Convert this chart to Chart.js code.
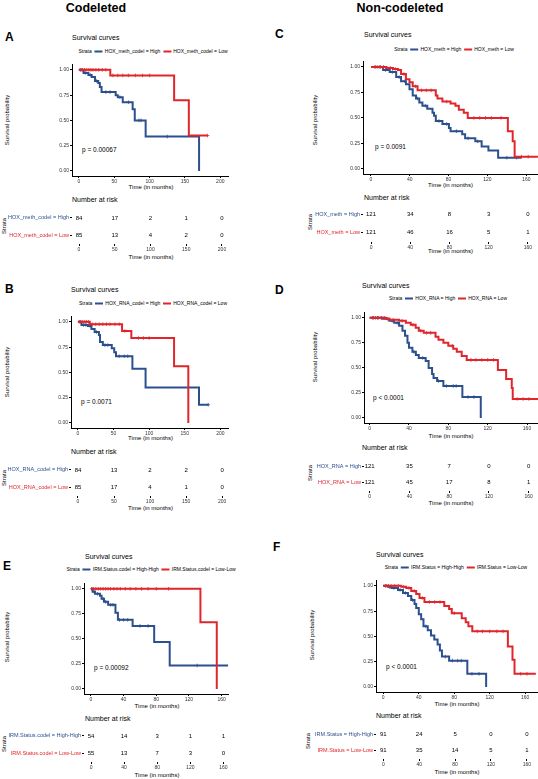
<!DOCTYPE html>
<html>
<head>
<meta charset="utf-8">
<script src="https://cdn.jsdelivr.net/npm/chart.js@4.4.1/dist/chart.umd.min.js"></script>
<style>
  body { margin: 0; width: 538px; height: 779px; overflow: hidden; background: #fff; position: relative;
         font-family: "Liberation Sans", Arial, sans-serif; }
  .t { position: absolute; white-space: nowrap; line-height: 1; color: #000; }
  canvas { position: absolute; }
  .sw { display: inline-block; width: 8px; height: 2px; vertical-align: middle; margin: 0 2px 0 3px; }
</style>
</head>
<body>
<script>
const BLUE = '#2c4f8d';
const RED = '#e0262c';

// A - HOX methylation, codeleted (times in months, survival, censor times)
const aHighT = [0, 6.5, 13.4, 18, 22.7, 27.3, 29.6, 32, 52, 55, 62, 76, 79, 94.4, 170];
const aHighS = [1, 0.97, 0.95, 0.93, 0.89, 0.87, 0.83, 0.78, 0.75, 0.73, 0.68, 0.61, 0.50, 0.34, 0];
const aHighC = [3, 9, 16, 25, 38, 44, 58, 70, 85, 88, 125];
const aLowT = [0, 44.4, 134.7, 155.5, 182];
const aLowS = [1, 0.945, 0.70, 0.35, 0.35];
const aLowC = [2, 5, 8, 11, 14, 17, 20, 24, 28, 33, 38, 48, 55, 62, 70, 80, 90, 100, 182];
const aTicks = [0, 50, 100, 150, 200];
const aStrata = ['HOX_meth_codel = High', 'HOX_meth_codel = Low'];
const aRiskHigh = [84, 17, 2, 1, 0];
const aRiskLow = [85, 13, 4, 2, 0];

// B - HOX RNA, codeleted
const bHighT = [0, 5, 14, 19, 23.5, 29.5, 31, 35, 47.5, 51, 53.5, 76.5, 95, 170, 183];
const bHighS = [1, 0.97, 0.96, 0.93, 0.90, 0.87, 0.80, 0.77, 0.74, 0.70, 0.66, 0.535, 0.35, 0.18, 0.18];
const bHighC = [3, 8, 11, 17, 26, 38, 42, 58, 65, 70, 183];
const bLowT = [0, 16.6, 62, 75, 135, 155];
const bLowS = [1, 0.977, 0.91, 0.84, 0.56, 0];
const bLowC = [3, 6, 9, 12, 15, 20, 25, 30, 35, 40, 45, 52, 58, 66, 85, 92, 100];
const bTicks = [0, 50, 100, 150, 200];
const bStrata = ['HOX_RNA_codel = High', 'HOX_RNA_codel = Low'];
const bRiskHigh = [84, 13, 2, 2, 0];
const bRiskLow = [85, 17, 4, 1, 0];

// C - HOX methylation, non-codeleted
const cHighT = [0, 12.5, 19.3, 26, 31, 36, 39.7, 43, 46.4, 49.8, 53, 58, 63.4, 65, 66.8, 73.6, 80.3, 82, 94, 97, 107.5, 114, 121, 131, 155];
const cHighS = [1, 0.97, 0.95, 0.90, 0.86, 0.83, 0.78, 0.72, 0.69, 0.65, 0.62, 0.59, 0.55, 0.52, 0.47, 0.44, 0.40, 0.37, 0.34, 0.30, 0.27, 0.22, 0.18, 0.11, 0.11];
const cHighC = [5, 9, 15, 22, 29, 35, 48, 56, 70, 78, 88, 100, 110, 140, 150];
const cLowT = [0, 16, 22.7, 27.8, 31, 36, 39.7, 43, 48, 66.8, 68.5, 73.6, 82, 87, 90.5, 95.6, 99.7, 141, 146, 148, 172];
const cLowS = [1, 0.99, 0.98, 0.97, 0.93, 0.88, 0.85, 0.81, 0.77, 0.72, 0.69, 0.66, 0.64, 0.62, 0.58, 0.55, 0.50, 0.37, 0.27, 0.12, 0.12];
const cLowC = [4, 7, 10, 13, 20, 25, 34, 46, 52, 57, 62, 78, 106, 112, 118, 124, 134, 155, 162];
const cTicks = [0, 40, 80, 120, 160];
const cStrata = ['HOX_meth = High', 'HOX_meth = Low'];
const cRiskHigh = [121, 34, 8, 3, 0];
const cRiskLow = [121, 46, 16, 5, 1];

// D - HOX RNA, non-codeleted
const dHighT = [0, 13.4, 20, 25, 30, 33.4, 36, 38.5, 40, 43.5, 47, 50, 57, 60, 63.5, 65, 68.6, 75, 94.3, 113];
const dHighS = [1, 0.99, 0.97, 0.95, 0.92, 0.87, 0.82, 0.75, 0.70, 0.66, 0.63, 0.60, 0.57, 0.50, 0.44, 0.40, 0.37, 0.32, 0.21, 0];
const dHighC = [4, 8, 12, 18, 23, 28, 45, 54, 70, 78, 85, 88, 100, 106];
const dLowT = [0, 16.7, 20, 30, 36.8, 41.8, 46.8, 50, 55, 67, 70, 75, 80, 85, 88.6, 93.6, 98.7, 130.4, 138.8, 144.5, 145.5, 172];
const dLowS = [1, 0.99, 0.98, 0.97, 0.95, 0.93, 0.90, 0.87, 0.85, 0.81, 0.78, 0.75, 0.72, 0.69, 0.66, 0.62, 0.58, 0.48, 0.39, 0.30, 0.19, 0.19];
const dLowC = [3, 6, 9, 12, 15, 24, 33, 44, 52, 58, 62, 84, 103, 108, 114, 120, 126, 150, 156, 162];
const dTicks = [0, 40, 80, 120, 160];
const dStrata = ['HOX_RNA = High', 'HOX_RNA = Low'];
const dRiskHigh = [121, 35, 7, 0, 0];
const dRiskLow = [121, 45, 17, 8, 1];

// E - IRM status, codeleted
const eHighT = [0, 2, 5, 11, 13, 16, 21, 30, 33, 51, 77.4, 96.4, 168];
const eHighS = [1, 0.97, 0.95, 0.93, 0.90, 0.87, 0.84, 0.76, 0.69, 0.63, 0.47, 0.235, 0.235];
const eHighC = [1, 4, 8, 15, 18, 24, 27, 35, 40, 45, 60, 70, 130];
const eLowT = [0, 134, 154];
const eLowS = [1, 0.667, 0];
const eLowC = [3, 6, 9, 12, 15, 18, 21, 24, 28, 32, 36, 42, 48, 55, 62, 70, 80, 95];
const eTicks = [0, 40, 80, 120, 160];
const eStrata = ['IRM.Status.codel = High-High', 'IRM.Status.codel = Low-Low'];
const eRiskHigh = [54, 14, 3, 1, 1];
const eRiskLow = [55, 13, 7, 3, 0];

// F - IRM status, non-codeleted
const fHighT = [0, 5.6, 9.3, 16.7, 22.3, 27.9, 31.6, 35.3, 37.2, 40.1, 42.8, 45.4, 50.2, 53.9, 57.6, 61.3, 63.9, 66.2, 74.3, 94.8, 116];
const fHighS = [1, 0.99, 0.98, 0.96, 0.93, 0.90, 0.86, 0.82, 0.78, 0.72, 0.67, 0.60, 0.56, 0.51, 0.47, 0.42, 0.36, 0.30, 0.26, 0.13, 0];
const fHighC = [3, 7, 12, 19, 25, 33, 48, 70, 78, 84, 88, 100, 108];
const fLowT = [0, 20.4, 26, 31.6, 37.2, 40.9, 46.5, 68.8, 74.3, 77.3, 88.5, 93, 96, 100.4, 140.5, 145.7, 148, 172];
const fLowS = [1, 0.99, 0.98, 0.95, 0.92, 0.88, 0.84, 0.80, 0.77, 0.73, 0.68, 0.64, 0.60, 0.55, 0.40, 0.27, 0.13, 0.13];
const fLowC = [3, 6, 9, 13, 17, 23, 29, 35, 44, 52, 58, 64, 80, 106, 112, 120, 128, 135, 155, 162];
const fTicks = [0, 40, 80, 120, 160];
const fStrata = ['IRM.Status = High-High', 'IRM.Status = Low-Low'];
const fRiskHigh = [91, 24, 5, 0, 0];
const fRiskLow = [91, 35, 14, 5, 1];

const yTicks = [0, 0.25, 0.5, 0.75, 1];

// layout of each panel (pixels in the page)
const panels = [
  { letter: 'A', col: 0, lx: 5, ly: 37, pv: 'p = 0.00067', pvx: 82, pvy: 150,
    high: [aHighT, aHighS, aHighC], low: [aLowT, aLowS, aLowC], ticks: aTicks, strata: aStrata, risk: [aRiskHigh, aRiskLow],
    plot: { l: 72, r: 230, t: 63, b: 176 }, xr: [-9.8, 211.2], legX: 153, legY: 51, scX: 72, scY: 37,
    spX: 7, spY: 120, t1: 187, nar: 199, rows: [217, 235], stX: 4, stY: 226, t2: 257 },
  { letter: 'B', col: 0, lx: 5, ly: 289, pv: 'p = 0.0071', pvx: 81, pvy: 402,
    high: [bHighT, bHighS, bHighC], low: [bLowT, bLowS, bLowC], ticks: bTicks, strata: bStrata, risk: [bRiskHigh, bRiskLow],
    plot: { l: 71, r: 230, t: 315, b: 428 }, xr: [-9.7, 211], legX: 153, legY: 303, scX: 71, scY: 289,
    spX: 7, spY: 372, t1: 438, nar: 451, rows: [469, 487], stX: 4, stY: 478, t2: 508 },
  { letter: 'C', col: 270, lx: 275, ly: 34, pv: 'p = 0.0091', pvx: 375, pvy: 147,
    high: [cHighT, cHighS, cHighC], low: [cLowT, cLowS, cLowC], ticks: cTicks, strata: cStrata, risk: [cRiskHigh, cRiskLow],
    plot: { l: 363, r: 541, t: 60, b: 174 }, xr: [-8.2, 173.3], legX: 454, legY: 49, scX: 364, scY: 34,
    spX: 315, spY: 120, t1: 185, nar: 197, rows: [213, 232], stX: 310, stY: 222, t2: 251 },
  { letter: 'D', col: 270, lx: 275, ly: 290, pv: 'p < 0.0001', pvx: 373, pvy: 398,
    high: [dHighT, dHighS, dHighC], low: [dLowT, dLowS, dLowC], ticks: dTicks, strata: dStrata, risk: [dRiskHigh, dRiskLow],
    plot: { l: 364, r: 541, t: 311, b: 423 }, xr: [-5.7, 172.4], legX: 448, legY: 298, scX: 362, scY: 285,
    spX: 315, spY: 357, t1: 436, nar: 447, rows: [465, 482], stX: 310, stY: 473, t2: 503 },
  { letter: 'E', col: 0, lx: 3, ly: 566, pv: 'p = 0.00092', pvx: 94, pvy: 668,
    high: [eHighT, eHighS, eHighC], low: [eLowT, eLowS, eLowC], ticks: eTicks, strata: eStrata, risk: [eRiskHigh, eRiskLow],
    plot: { l: 84, r: 230, t: 582, b: 694 }, xr: [-8.5, 168], legX: 151, legY: 569, scX: 85, scY: 556,
    spX: 7, spY: 637, t1: 706, nar: 718, rows: [735, 753], stX: 4, stY: 744, t2: 775 },
  { letter: 'F', col: 270, lx: 273, ly: 547, pv: 'p < 0.0001', pvx: 386, pvy: 667,
    high: [fHighT, fHighS, fHighC], low: [fLowT, fLowS, fLowC], ticks: fTicks, strata: fStrata, risk: [fRiskHigh, fRiskLow],
    plot: { l: 376, r: 541, t: 579, b: 692 }, xr: [-8.1, 175.8], legX: 456, legY: 567, scX: 376, scY: 554,
    spX: 312, spY: 635, t1: 704, nar: 715, rows: [733, 750], stX: 308, stY: 741, t2: 772 }
];

Chart.defaults.font.family = '"Liberation Sans", Arial, sans-serif';
Chart.defaults.color = '#333';

function label(text, x, y, size, opts = {}) {
  const d = document.createElement('div');
  d.className = 't';
  d.textContent = text;
  d.style.left = x + 'px';
  d.style.top = y + 'px';
  d.style.fontSize = size + 'px';
  if (opts.bold) d.style.fontWeight = 'bold';
  if (opts.color) d.style.color = opts.color;
  let tf = opts.center ? 'translate(-50%,-50%)' : 'translateY(-50%)';
  if (opts.rotate) tf = 'translate(-50%,-50%) rotate(-90deg)';
  d.style.transform = tf;
  document.body.appendChild(d);
  return d;
}

function legend(p) {
  const d = label('', p.legX, p.legY, 5, { center: true });
  d.innerHTML = 'Strata<span class="sw" style="background:' + BLUE + '"></span>' + p.strata[0] +
    '<span class="sw" style="background:' + RED + '"></span>' + p.strata[1];
}

function survAt(T, S, t) {
  let s = S[0];
  for (let i = 0; i < T.length; i++) if (T[i] <= t) s = S[i];
  return s;
}

function curve(T, S, color, order) {
  return { data: T.map((t, i) => ({ x: t, y: S[i] })), borderColor: color, borderWidth: 2,
           stepped: true, pointRadius: 0, fill: false, order: order };
}

function marks(T, S, C, color, order) {
  return { data: C.map(t => ({ x: t, y: survAt(T, S, t) })), showLine: false, borderColor: color,
           backgroundColor: color, pointStyle: 'cross', pointRadius: 1.8, pointBorderWidth: 0.8, order: order };
}

function makeCanvas(left, top, w, h) {
  const c = document.createElement('canvas');
  c.width = w; c.height = h;
  c.style.left = left + 'px'; c.style.top = top + 'px';
  c.style.width = w + 'px'; c.style.height = h + 'px';
  document.body.appendChild(c);
  return c;
}

const YW = 22, XH = 12, PT = 3, PR = 3;

function kmChart(p) {
  const pl = p.plot;
  const c = makeCanvas(pl.l - YW, pl.t - PT, pl.r - pl.l + YW + PR, pl.b - pl.t + PT + XH);
  new Chart(c, {
    type: 'line',
    data: { datasets: [
      curve(p.high[0], p.high[1], BLUE, 3),
      marks(p.high[0], p.high[1], p.high[2], BLUE, 2),
      curve(p.low[0], p.low[1], RED, 1),
      marks(p.low[0], p.low[1], p.low[2], RED, 0)
    ] },
    options: {
      responsive: false, animation: false, devicePixelRatio: 1,
      layout: { padding: { top: PT, right: PR, left: 0, bottom: 0 } },
      plugins: { legend: { display: false }, tooltip: { enabled: false } },
      scales: {
        x: { type: 'linear', min: p.xr[0], max: p.xr[1],
             afterBuildTicks: s => { s.ticks = p.ticks.map(v => ({ value: v })); },
             afterFit: s => { s.height = XH; },
             border: { display: true, color: '#000', width: 1 },
             grid: { display: true, drawOnChartArea: false, drawTicks: true, tickLength: 2, color: '#000' },
             ticks: { font: { size: 5 }, padding: 0.5, color: '#333', maxRotation: 0, callback: v => String(v) } },
        y: { type: 'linear', min: -0.05, max: 1.05,
             afterBuildTicks: s => { s.ticks = yTicks.map(v => ({ value: v })); },
             afterFit: s => { s.width = YW; },
             border: { display: true, color: '#000', width: 1 },
             grid: { display: true, drawOnChartArea: false, drawTicks: true, tickLength: 2, color: '#000' },
             ticks: { font: { size: 5 }, padding: 1, color: '#333', callback: v => v.toFixed(2) } }
      }
    }
  });
}

function riskChart(p) {
  const pl = p.plot;
  const gap = p.rows[1] - p.rows[0];
  const top = p.rows[0] - gap / 2, bottom = p.rows[1] + gap / 2;
  const h = Math.round(bottom - top);
  const c = makeCanvas(p.col, Math.round(top) - PT, pl.r - p.col + PR, h + PT + XH);
  const numbers = {
    id: 'riskNumbers',
    afterDraw(chart) {
      const { ctx, scales } = chart;
      ctx.save();
      ctx.font = '6px "Liberation Sans", Arial, sans-serif';
      ctx.fillStyle = '#000';
      ctx.textAlign = 'center';
      ctx.textBaseline = 'middle';
      p.risk.forEach((row, i) => row.forEach((n, j) => {
        ctx.fillText(String(n), scales.x.getPixelForValue(p.ticks[j]), scales.y.getPixelForTick(i));
      }));
      ctx.restore();
    }
  };
  new Chart(c, {
    type: 'scatter',
    data: { datasets: [] },
    plugins: [numbers],
    options: {
      responsive: false, animation: false, devicePixelRatio: 1,
      layout: { padding: { top: PT, right: PR, left: 0, bottom: 0 } },
      plugins: { legend: { display: false }, tooltip: { enabled: false } },
      scales: {
        x: { type: 'linear', min: p.xr[0], max: p.xr[1],
             afterBuildTicks: s => { s.ticks = p.ticks.map(v => ({ value: v })); },
             afterFit: s => { s.height = XH; },
             border: { display: false },
             grid: { display: true, drawOnChartArea: false, drawTicks: true, tickLength: 2, color: '#000' },
             ticks: { font: { size: 5 }, padding: 1, color: '#333', maxRotation: 0, callback: v => String(v) } },
        y: { type: 'category', labels: p.strata, offset: true,
             afterFit: s => { s.width = pl.l - p.col; },
             border: { display: false },
             grid: { display: true, drawOnChartArea: false, drawTicks: true, tickLength: 2, color: '#000', offset: false },
             ticks: { font: { size: 5.5 }, padding: 1, color: ctx => (ctx.index === 0 ? BLUE : RED) } }
      }
    }
  });
}

label('Codeleted', 96, 8, 12.5, { bold: true, center: true });
label('Non-codeleted', 400, 8, 12.5, { bold: true, center: true });

panels.forEach(p => {
  const mid = (p.plot.l + Math.min(p.plot.r, 538)) / 2;
  label(p.letter, p.lx, p.ly, 12, { bold: true });
  label('Survival curves', p.scX, p.scY, 7);
  legend(p);
  label('Survival probability', p.spX, p.spY, 6, { rotate: true });
  label(p.pv, p.pvx, p.pvy, 6.5);
  label('Time (in months)', mid, p.t1, 6, { center: true });
  label('Number at risk', p.scX, p.nar, 7);
  label('Strata', p.stX, p.stY, 6, { rotate: true });
  label('Time (in months)', mid, p.t2, 6, { center: true });
  kmChart(p);
  riskChart(p);
});
</script>
</body>
</html>
